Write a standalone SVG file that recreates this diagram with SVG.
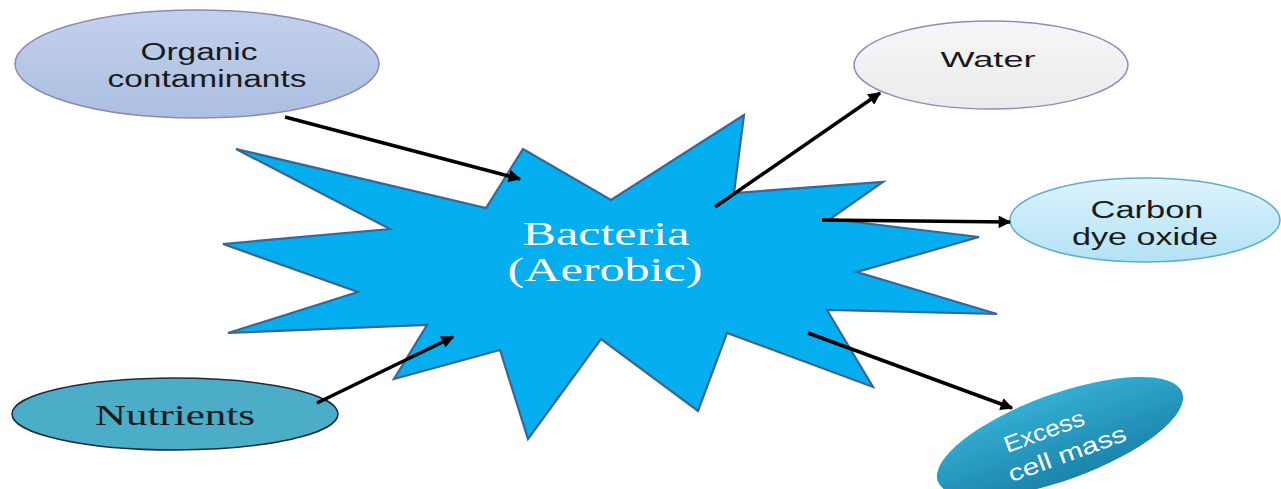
<svg xmlns="http://www.w3.org/2000/svg" width="1281" height="489" viewBox="0 0 1281 489">
  <style>
    .sans { font-family: "Liberation Sans", "Open Sans", sans-serif; }
    .serif { font-family: "Liberation Serif", "DejaVu Serif", serif; }
    .dark { fill: #1a1a1a; }
    .conn { stroke: #000; stroke-width: 3.5; fill: none; marker-end: url(#arrow); }
  </style>
  <defs>
    <marker id="arrow" viewBox="0 0 10 10" refX="9" refY="5" markerWidth="4.5" markerHeight="3.6" orient="auto" markerUnits="strokeWidth">
      <path d="M0,0 L10,5 L0,10 Z" fill="#000"/>
    </marker>
    <linearGradient id="gOrg" x1="0" y1="0" x2="0" y2="1">
      <stop offset="0" stop-color="#C3D1EB"/>
      <stop offset="1" stop-color="#ABBFE1"/>
    </linearGradient>
    <linearGradient id="gWater" x1="0" y1="0" x2="0" y2="1">
      <stop offset="0" stop-color="#F6F6F6"/>
      <stop offset="1" stop-color="#EBEBEB"/>
    </linearGradient>
    <linearGradient id="gCO2" x1="0" y1="0" x2="0" y2="1">
      <stop offset="0" stop-color="#DDF3FC"/>
      <stop offset="1" stop-color="#B3E2F5"/>
    </linearGradient>
    <linearGradient id="gEx" x1="0" y1="0" x2="0" y2="1">
      <stop offset="0" stop-color="#35ADD3"/>
      <stop offset="1" stop-color="#1A84AC"/>
    </linearGradient>
  </defs>
  <rect width="1281" height="489" fill="#fff"/>

  <g id="bacteria">
    <polygon points="236,149 486,208 523,149 611,200 744,115 734,193 883,182 830,219 979,237 857,272 997,314 827,310 873,387 727,333 698,411 601,339 528,439 500,350 394,379 427,325 228,333 358,292 223,244 390,229" fill="#05AEEE" stroke="#3C6595" stroke-width="2.2" stroke-linejoin="miter"/>
    <text class="serif" x="606" y="245" font-size="33" fill="#fff" text-anchor="middle" textLength="167" lengthAdjust="spacingAndGlyphs">Bacteria</text>
    <text class="serif" x="605" y="281" font-size="33" fill="#fff" text-anchor="middle" textLength="195" lengthAdjust="spacingAndGlyphs">(Aerobic)</text>
  </g>

  <g id="organic">
    <ellipse cx="197" cy="64" rx="182" ry="54" fill="url(#gOrg)" stroke="#8E87BA" stroke-width="1.5"/>
    <text class="sans dark" x="199" y="60" font-size="23" text-anchor="middle" textLength="117" lengthAdjust="spacingAndGlyphs">Organic</text>
    <text class="sans dark" x="207" y="87" font-size="23" text-anchor="middle" textLength="199" lengthAdjust="spacingAndGlyphs">contaminants</text>
  </g>

  <g id="nutrients">
    <ellipse cx="175" cy="414" rx="163" ry="36" fill="#4BADC8" stroke="#1C2C38" stroke-width="1.5"/>
    <text class="serif dark" x="175" y="425" font-size="30" text-anchor="middle" textLength="160" lengthAdjust="spacingAndGlyphs">Nutrients</text>
  </g>

  <g id="water">
    <ellipse cx="991" cy="65" rx="137" ry="44" fill="url(#gWater)" stroke="#9489BE" stroke-width="1.5"/>
    <text class="sans dark" x="988" y="67" font-size="22" text-anchor="middle" textLength="95" lengthAdjust="spacingAndGlyphs">Water</text>
  </g>

  <g id="co2">
    <ellipse cx="1145" cy="220" rx="135" ry="42" fill="url(#gCO2)" stroke="#5DADD0" stroke-width="1.5"/>
    <text class="sans dark" x="1147" y="218" font-size="23" text-anchor="middle" textLength="113" lengthAdjust="spacingAndGlyphs">Carbon</text>
    <text class="sans dark" x="1145" y="245" font-size="23" text-anchor="middle" textLength="146" lengthAdjust="spacingAndGlyphs">dye oxide</text>
  </g>

  <g id="excess" transform="translate(1060,437) rotate(-20)">
    <ellipse cx="0" cy="0" rx="130" ry="43" fill="url(#gEx)"/>
    <text class="sans" x="-13" y="-3" font-size="23" fill="#fff" text-anchor="middle" textLength="84" lengthAdjust="spacingAndGlyphs">Excess</text>
    <text class="sans" x="1" y="26" font-size="23" fill="#fff" text-anchor="middle" textLength="124" lengthAdjust="spacingAndGlyphs">cell mass</text>
  </g>

  <g id="connectors">
    <line class="conn" x1="285" y1="117" x2="520" y2="179"/>
    <line class="conn" x1="317" y1="403" x2="453" y2="337"/>
    <line class="conn" x1="715" y1="207" x2="880" y2="93"/>
    <line class="conn" x1="822" y1="220" x2="1010" y2="222"/>
    <line class="conn" x1="808" y1="333" x2="1012" y2="408"/>
  </g>
</svg>
